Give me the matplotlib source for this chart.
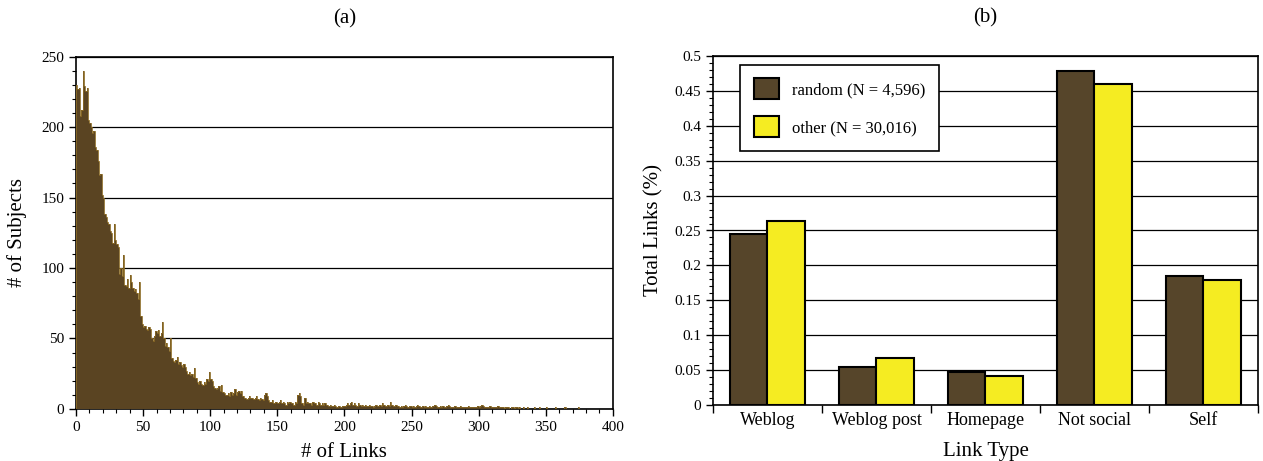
import numpy as np
import matplotlib
matplotlib.use("Agg")
import matplotlib.pyplot as plt
from matplotlib.ticker import MultipleLocator, FormatStrFormatter

plt.rcParams['font.family'] = ['Liberation Serif', 'DejaVu Serif']

# (a) number of subjects per link count (bins of width 1, 0..399)
subjects = [
    230, 227, 228, 208, 212, 240, 229, 226, 228, 205, 203, 200, 196, 197, 186, 184, 176, 166, 167, 152,
    150, 138, 136, 133, 131, 126, 125, 118, 131, 120, 117, 115, 96, 100, 94, 109, 88, 87, 92, 86,
    95, 90, 86, 84, 85, 82, 78, 90, 66, 60, 58, 59, 57, 56, 58, 57, 50, 48, 52, 55,
    54, 56, 52, 54, 62, 50, 45, 47, 44, 41, 50, 36, 34, 33, 35, 37, 32, 33, 31, 30,
    32, 30, 27, 25, 26, 24, 25, 23, 29, 22, 19, 18, 20, 18, 17, 19, 18, 21, 20, 26,
    21, 20, 16, 15, 14, 15, 16, 13, 17, 12, 11, 10, 10, 11, 9, 12, 10, 11, 14, 10,
    12, 13, 11, 13, 9, 8, 8, 7, 8, 9, 8, 8, 7, 8, 9, 7, 6, 8, 7, 6,
    10, 11, 9, 6, 5, 5, 6, 4, 5, 5, 4, 5, 6, 4, 5, 4, 3, 5, 4, 5,
    4, 4, 3, 5, 4, 10, 11, 9, 4, 3, 8, 4, 5, 4, 4, 3, 5, 4, 4, 3,
    5, 4, 3, 4, 3, 4, 3, 3, 2, 3, 2, 2, 3, 2, 1, 2, 2, 1, 2, 2,
    2, 3, 4, 3, 4, 5, 3, 4, 3, 2, 4, 3, 2, 3, 2, 3, 2, 2, 3, 2,
    2, 1, 2, 3, 2, 2, 3, 2, 4, 3, 2, 2, 3, 2, 5, 3, 2, 2, 3, 2,
    2, 1, 2, 1, 2, 3, 2, 1, 2, 2, 1, 2, 1, 2, 3, 2, 1, 1, 2, 1,
    2, 1, 1, 2, 1, 2, 2, 3, 2, 1, 1, 2, 1, 2, 1, 1, 2, 3, 2, 1,
    1, 1, 2, 1, 1, 1, 2, 1, 1, 1, 1, 1, 2, 1, 1, 1, 1, 1, 1, 2,
    1, 2, 3, 2, 1, 1, 1, 1, 2, 1, 1, 1, 1, 1, 2, 1, 1, 1, 1, 0,
    1, 1, 1, 0, 1, 1, 0, 1, 1, 0, 1, 0, 0, 1, 0, 0, 1, 0, 0, 0,
    0, 1, 0, 0, 0, 1, 0, 0, 0, 0, 1, 0, 0, 0, 0, 0, 0, 1, 0, 0,
    0, 0, 0, 0, 1, 0, 0, 0, 0, 0, 0, 0, 0, 0, 1, 0, 0, 0, 0, 0,
    0, 0, 0, 0, 0, 0, 0, 0, 0, 0, 0, 0, 0, 0, 0, 0, 0, 0, 0, 0,
]

# (b) share of links per link type
link_types = ["Weblog", "Weblog post", "Homepage", "Not social", "Self"]
random_vals = [0.245, 0.054, 0.048, 0.478, 0.185]
other_vals = [0.263, 0.068, 0.042, 0.460, 0.179]
legend_labels = ["random (N = 4,596)", "other (N = 30,016)"]

brown = "#56452a"
yellow = "#f5ec22"

fig = plt.figure(figsize=(12.63, 4.61), dpi=100)
ax1 = fig.add_axes([0.0602, 0.113, 0.425, 0.764])
ax2 = fig.add_axes([0.5645, 0.121, 0.4315, 0.758])

# ---- panel (a)
edges = np.arange(len(subjects) + 1)
ax1.stairs(subjects, edges, fill=True, color="#5a4422", zorder=3)
ax1.stairs(subjects, edges, color="#8a6a24", linewidth=0.6, zorder=4)
ax1.set_xlim(0, 400)
ax1.set_ylim(0, 250)
ax1.xaxis.set_major_locator(MultipleLocator(50))
ax1.xaxis.set_minor_locator(MultipleLocator(10))
ax1.yaxis.set_major_locator(MultipleLocator(50))
ax1.yaxis.set_minor_locator(MultipleLocator(10))
ax1.yaxis.grid(True, color="black", linewidth=0.9, zorder=1)
ax1.set_axisbelow(True)
ax1.tick_params(which="major", direction="out", length=5, width=1, labelsize=11)
ax1.tick_params(which="minor", direction="out", length=3, width=0.8)
ax1.set_xlabel("# of Links", fontsize=15, labelpad=7)
ax1.set_ylabel("# of Subjects", fontsize=15, labelpad=10)
ax1.set_title("(a)", fontsize=15, pad=24)
for s in ax1.spines.values():
    s.set_linewidth(1.2)

# ---- panel (b)
x = np.arange(len(link_types))
w = 0.34
ax2.bar(x - w / 2, random_vals, w, color=brown, edgecolor="black", linewidth=1.5,
        label=legend_labels[0], zorder=3)
ax2.bar(x + w / 2, other_vals, w, color=yellow, edgecolor="black", linewidth=1.5,
        label=legend_labels[1], zorder=3)
ax2.set_xlim(-0.5, len(link_types) - 0.5)
ax2.set_ylim(0, 0.5)
ax2.set_xticks(x)
ax2.set_xticklabels(link_types, fontsize=13)
ax2.set_xticks(np.arange(len(link_types) + 1) - 0.5, minor=True)
ax2.tick_params(axis="x", which="major", length=0, pad=5)
ax2.tick_params(axis="x", which="minor", direction="out", length=6, width=1)
ax2.yaxis.set_major_locator(MultipleLocator(0.05))
ax2.yaxis.set_minor_locator(MultipleLocator(0.01))
ax2.yaxis.set_major_formatter(FormatStrFormatter("%g"))
ax2.tick_params(axis="y", which="major", direction="out", length=5, width=1, labelsize=11)
ax2.tick_params(axis="y", which="minor", direction="out", length=3, width=0.8)
ax2.yaxis.grid(True, color="black", linewidth=0.9, zorder=1)
ax2.set_axisbelow(True)
ax2.set_xlabel("Link Type", fontsize=15, labelpad=9)
ax2.set_ylabel("Total Links (%)", fontsize=15, labelpad=8)
ax2.set_title("(b)", fontsize=15, pad=24)
for s in ax2.spines.values():
    s.set_linewidth(1.2)
leg = ax2.legend(loc="upper left", bbox_to_anchor=(0.05, 0.975), fontsize=12,
                 frameon=True, fancybox=False, edgecolor="black", framealpha=1,
                 handlelength=1.5, handleheight=1.6, labelspacing=1.0,
                 borderpad=0.8, handletextpad=0.8, borderaxespad=0)
leg.get_frame().set_linewidth(1.2)
leg.set_zorder(5)

fig.savefig("out.png", dpi=100)
